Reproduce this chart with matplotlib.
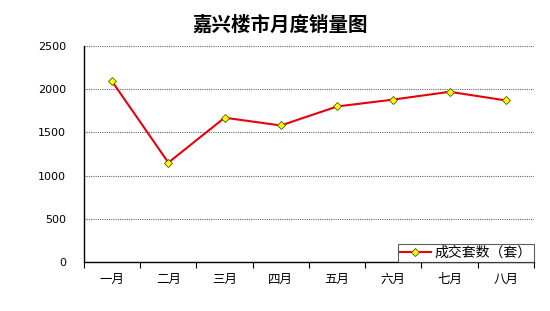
import matplotlib
matplotlib.use("Agg")
import matplotlib.pyplot as plt
import numpy as np

plt.rcParams['font.family'] = ['Noto Sans CJK SC', 'DejaVu Sans']

months = ["一月", "二月", "三月", "四月", "五月", "六月", "七月", "八月"]
sales = [2090, 1150, 1670, 1580, 1800, 1880, 1970, 1870]
yticks = [0, 500, 1000, 1500, 2000, 2500]

fig = plt.figure(figsize=(5.5, 3.11), dpi=100)
ax = fig.add_axes([0.1527, 0.1576, 0.8182, 0.6945])

x = np.arange(len(months))
ax.plot(x, sales, color='#e8000b', lw=1.5, marker='D', ms=4,
        mfc='#ffff00', mec='#555500', mew=0.6, label='成交套数（套）', zorder=3)

ax.set_xlim(-0.5, len(months) - 0.5)
ax.set_ylim(0, 2500)
ax.set_yticks(yticks)
ax.set_xticks(x)
ax.set_xticklabels(months)
ax.set_xticks(np.arange(len(months) + 1) - 0.5, minor=True)
ax.tick_params(axis='x', which='major', length=0, pad=8, labelsize=9)
ax.tick_params(axis='x', which='minor', length=4, width=0.8, direction='out')
ax.tick_params(axis='y', length=0, pad=13, labelsize=8)
for lbl in ax.get_yticklabels():
    lbl.set_family('DejaVu Sans')

ax.grid(axis='y', color='#666666', ls=(0, (1, 1)), lw=0.8)
ax.set_axisbelow(True)
for s in ['top', 'right']:
    ax.spines[s].set_visible(False)
for s in ['left', 'bottom']:
    ax.spines[s].set_linewidth(1.0)

ax.set_title('嘉兴楼市月度销量图', fontsize=14, fontweight='bold', pad=11, x=0.436)

leg = ax.legend(loc='lower right', bbox_to_anchor=(1.0, 0.0), fontsize=10,
                frameon=True, fancybox=False, borderpad=0.15, handlelength=2.2,
                handletextpad=0.3, borderaxespad=0)
leg.get_frame().set_edgecolor('#333333')
leg.get_frame().set_linewidth(0.8)

fig.savefig('out.png', dpi=100)
